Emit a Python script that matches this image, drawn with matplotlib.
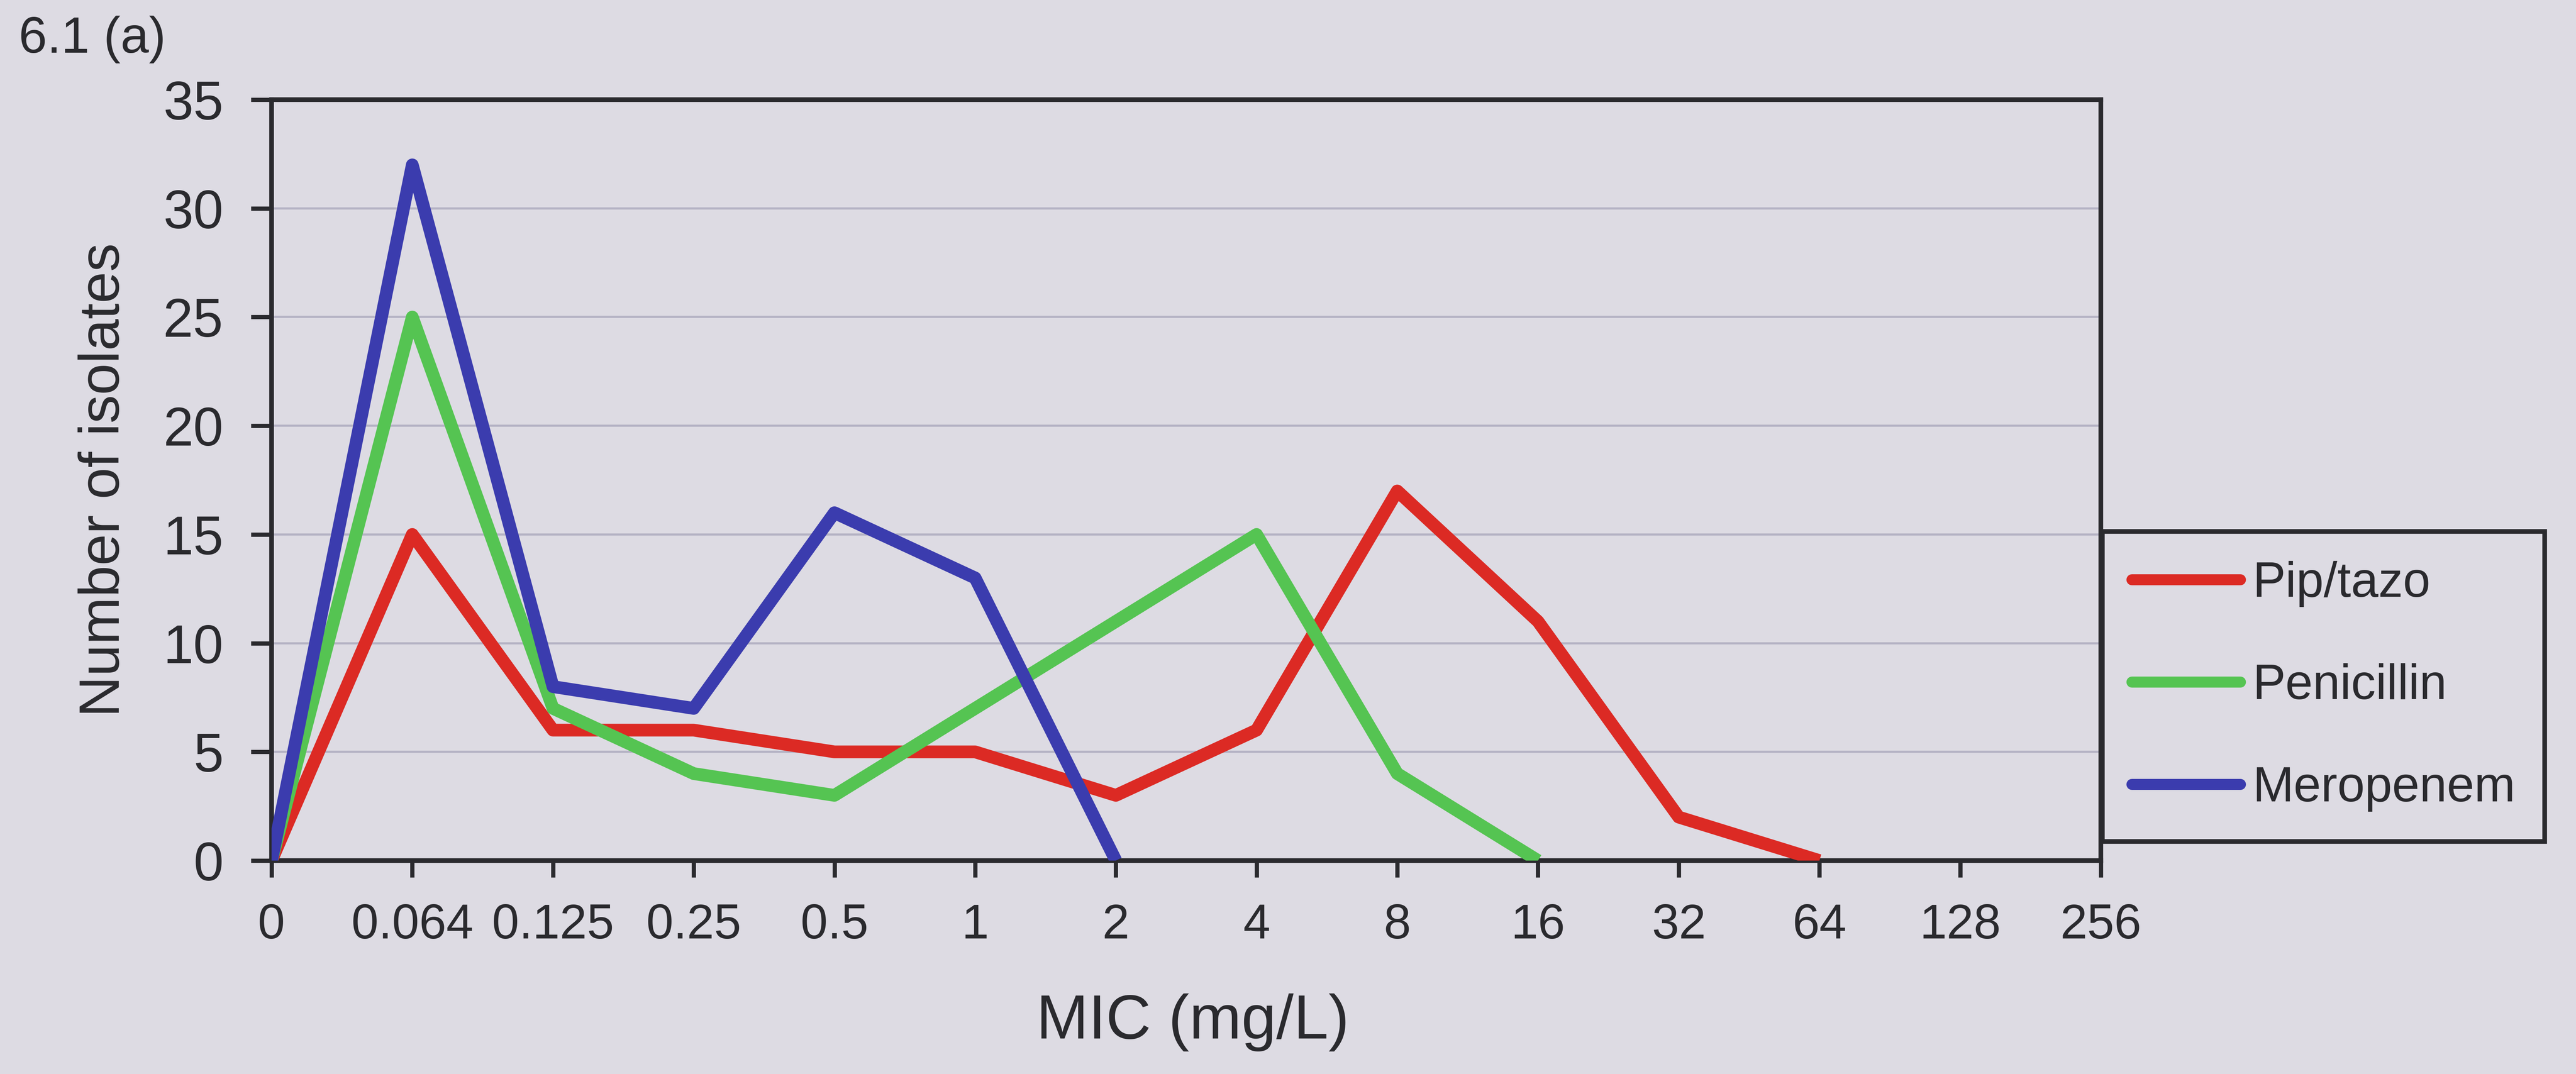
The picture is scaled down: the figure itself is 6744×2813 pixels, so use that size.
import matplotlib
matplotlib.use("Agg")
import matplotlib.pyplot as plt

plt.rcParams["font.family"] = ["Liberation Sans", "DejaVu Sans"]

# MIC categories (mg/L) and number of isolates at each
mic_labels = ["0", "0.064", "0.125", "0.25", "0.5", "1", "2",
              "4", "8", "16", "32", "64", "128", "256"]
pip_tazo = [0, 15, 6, 6, 5, 5, 3, 6, 17, 11, 2, 0]
penicillin = [0, 25, 7, 4, 3, 7, 11, 15, 4, 0]
meropenem = [0, 32, 8, 7, 16, 13, 0]

series = [
    ("Pip/tazo", pip_tazo, "#dc2a24"),
    ("Penicillin", penicillin, "#55c452"),
    ("Meropenem", meropenem, "#3b3cae"),
]

bg = "#dddbe3"
ink = "#2a2a2e"

W, H = 6744, 2813
fig = plt.figure(figsize=(W / 400, H / 400), dpi=400, facecolor=bg)
ax = fig.add_axes([711 / W, 1 - 2254 / H, (5500 - 711) / W, (2254 - 261) / H])
ax.set_facecolor(bg)

for name, vals, col in series:
    ax.plot(range(len(vals)), vals, color=col, lw=6.0, label=name,
            solid_joinstyle="round", solid_capstyle="butt", zorder=3)

ax.set_xlim(0, len(mic_labels) - 1)
ax.set_ylim(0, 35)
ax.set_xticks(range(len(mic_labels)))
ax.set_xticklabels(mic_labels)
ax.set_yticks(range(0, 36, 5))

ax.yaxis.grid(True, color="#b4b2c4", lw=1.0)
ax.set_axisbelow(True)

for sp in ax.spines.values():
    sp.set_color(ink)
    sp.set_linewidth(2.2)

ax.tick_params(axis="y", length=9.7, width=2.0, color=ink, labelsize=25.5,
               labelcolor=ink, pad=13)
ax.tick_params(axis="x", length=7.9, width=2.0, color=ink, labelsize=23,
               labelcolor=ink, pad=12)

ax.set_xlabel("MIC (mg/L)", fontsize=29.5, color=ink)
ax.xaxis.set_label_coords(0.5035, -0.1746)
ax.set_ylabel("Number of isolates", fontsize=26.8, color=ink)
ax.yaxis.label.set_va("center")
ax.yaxis.set_label_coords(-0.0913, 0.5)

leg = ax.legend(loc="upper left", bbox_to_anchor=(5504 / W, 1 - 1392 / H),
                bbox_transform=fig.transFigure, borderaxespad=0,
                fontsize=23.2, handlelength=2.2, handletextpad=0.25,
                labelspacing=1.14, borderpad=0.6, fancybox=False,
                framealpha=1, facecolor=bg, edgecolor=ink)
leg.get_frame().set_linewidth(2.2)
for t in leg.get_texts():
    t.set_color(ink)
for ln in leg.get_lines():
    ln.set_linewidth(5.2)
    ln.set_solid_capstyle("round")

fig.text(49 / W, 1 - 138 / H, "6.1 (a)", fontsize=24, color=ink,
         va="baseline", ha="left")

fig.savefig("out.png", dpi=400, facecolor=bg)
